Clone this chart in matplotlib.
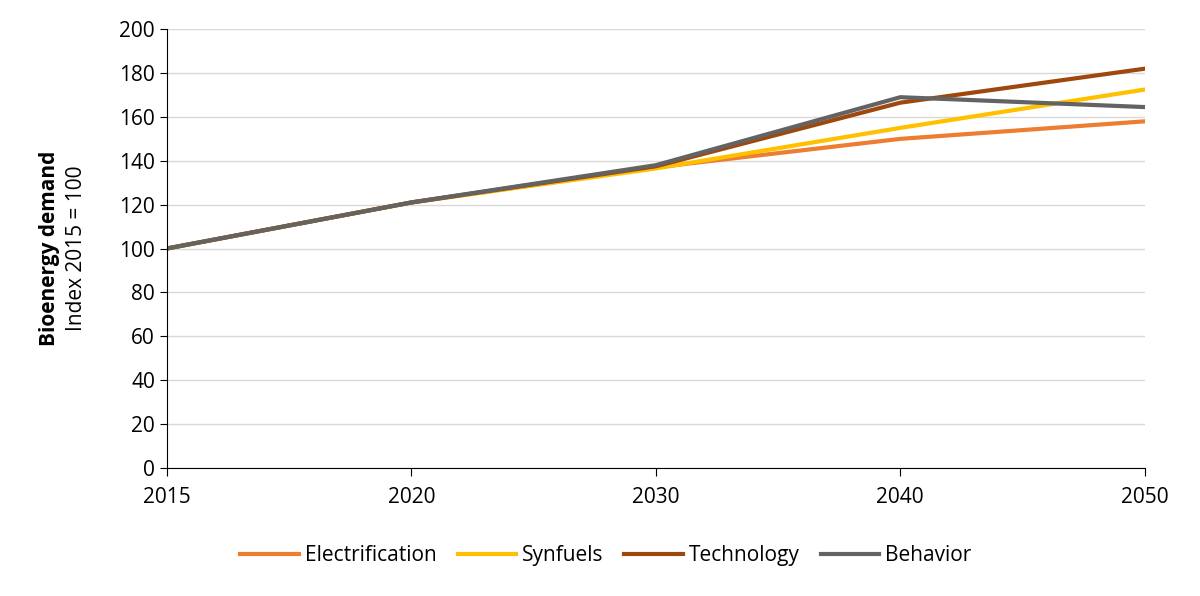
import numpy as np
import matplotlib
matplotlib.use('Agg')
import matplotlib.pyplot as plt

matplotlib.rcParams['font.family'] = ['Open Sans', 'DejaVu Sans']
matplotlib.rcParams['font.size'] = 15

years = ['2015', '2020', '2030', '2040', '2050']
electrification = [100, 121, 137, 150, 158]
synfuels = [100, 121, 136.5, 155, 172.5]
technology = [100, 121, 137.5, 166.5, 182]
behavior = [100, 121, 138, 169, 164.5]

series = [
    ('Electrification', electrification, '#ed7d31'),
    ('Synfuels', synfuels, '#ffc000'),
    ('Technology', technology, '#9e480e'),
    ('Behavior', behavior, '#636363'),
]

fig = plt.figure(figsize=(12, 5.96), dpi=100)
ax = fig.add_axes([0.139, 0.215, 0.815, 0.736])
x = np.arange(len(years))
for name, vals, col in series:
    ax.plot(x, vals, color=col, lw=3, label=name)

ax.set_xlim(0, len(years) - 1)
ax.set_ylim(0, 200)
ax.set_yticks(range(0, 201, 20))
ax.set_xticks(x)
ax.set_xticklabels(years)
ax.grid(axis='y', color='#d9d9d9', lw=1)
ax.set_axisbelow(True)
for s in ['top', 'right']:
    ax.spines[s].set_visible(False)
ax.spines['left'].set_color('black')
ax.spines['bottom'].set_color('black')
ax.tick_params(axis='x', direction='out', length=6, pad=8)
ax.tick_params(axis='y', length=5)

fig.text(0.041, 0.583, 'Bioenergy demand', rotation=90, ha='center', va='center',
         fontweight='bold', fontsize=15)
fig.text(0.064, 0.583, 'Index 2015 = 100', rotation=90, ha='center', va='center', fontsize=15)

fig.legend(loc='center', bbox_to_anchor=(0.505, 0.068), ncol=4, frameon=False,
           handlelength=2.8, handletextpad=0.3, columnspacing=1.0, fontsize=15)

fig.savefig('out.png', dpi=100)
